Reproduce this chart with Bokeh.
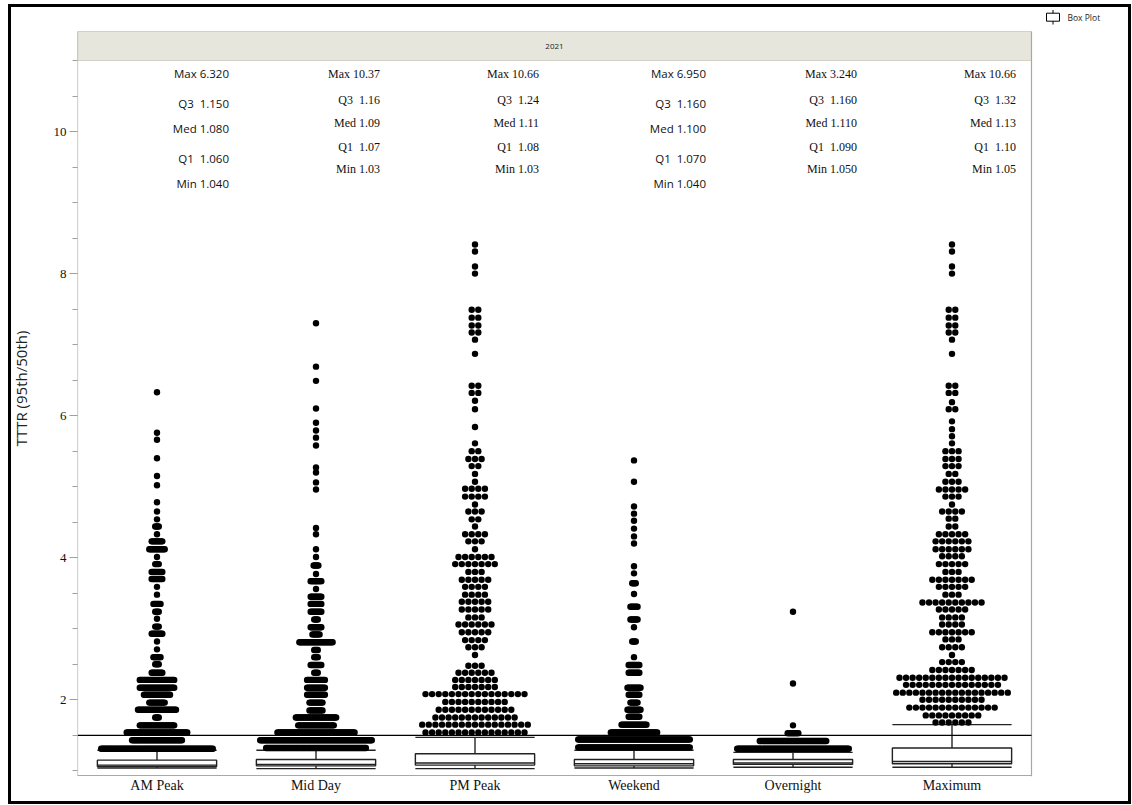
from bokeh.plotting import figure
from bokeh.models import FixedTicker, Range1d
from bokeh.embed import file_html
from bokeh.resources import INLINE
from bokeh.core.properties import value

# ---------------- data ----------------
categories = ["AM Peak", "Mid Day", "PM Peak", "Weekend", "Overnight", "Maximum"]
q1 = [1.06, 1.07, 1.08, 1.07, 1.09, 1.10]
median = [1.08, 1.09, 1.11, 1.10, 1.11, 1.13]
q3 = [1.15, 1.16, 1.24, 1.16, 1.16, 1.32]
minimum = [1.04, 1.03, 1.03, 1.04, 1.05, 1.05]
maximum = [6.32, 10.37, 10.66, 6.95, 3.24, 10.66]
upper_whisker = [1.29, 1.29, 1.47, 1.29, 1.26, 1.65]
stat_decimals = [3, 2, 2, 3, 3, 2]
stat_sans = [True, False, False, True, False, False]
reference_level = 1.5
panel_title = "2021"
legend_label = "Box Plot"
y_label = "TTTR (95th/50th)"

# dot rows (value, count)
am_vals = [1.31, 1.43, 1.54, 1.64, 1.75, 1.86, 1.96, 2.07, 2.17, 2.28, 2.38, 2.50, 2.60, 2.71, 2.82,
           2.93, 3.03, 3.14, 3.24, 3.35, 3.48, 3.59, 3.70, 3.80, 3.91, 4.01, 4.12, 4.23, 4.33, 4.44,
           4.54, 4.65, 4.78, 5.02, 5.15, 5.40, 5.66, 5.76, 6.33]
am_counts = [95, 43, 52, 30, 4, 33, 14, 23, 30, 30, 10, 4, 7, 1, 1,
             10, 4, 1, 4, 7, 1, 1, 10, 10, 4, 1, 14, 10, 1, 4,
             1, 1, 1, 1, 1, 1, 1, 1, 1]

md_vals = [1.32, 1.43, 1.54, 1.64, 1.75, 1.85, 1.96, 2.07, 2.17, 2.28, 2.38, 2.49, 2.60, 2.70, 2.81,
           2.92, 3.02, 3.13, 3.24, 3.35, 3.45, 3.56, 3.67, 3.77, 3.89, 4.01, 4.12, 4.33, 4.42,
           4.96, 5.06, 5.20, 5.27, 5.58, 5.69, 5.79, 5.90, 6.10, 6.49, 6.69, 7.30]
md_counts = [85, 95, 66, 31, 35, 12, 12, 16, 16, 16, 4, 10, 4, 4, 29,
             7, 10, 4, 10, 10, 10, 1, 10, 1, 5, 1, 1, 1, 1,
             1, 1, 1, 1, 1, 1, 1, 1, 1, 1, 1, 1]

pm_vals = [1.54, 1.65, 1.75, 1.86, 1.97, 2.08, 2.18, 2.28, 2.38, 2.48, 2.63, 2.74, 2.84, 2.95, 3.06,
           3.16, 3.27, 3.38, 3.48, 3.59, 3.69, 3.80, 3.91, 4.01, 4.12, 4.23, 4.33, 4.44, 4.54, 4.65,
           4.75, 4.86, 4.97, 5.07, 5.18, 5.29, 5.39, 5.50, 5.61, 5.84, 6.09, 6.21, 6.32, 6.42,
           6.87, 7.07, 7.17, 7.27, 7.38, 7.49, 8.00, 8.10, 8.31, 8.41]
pm_counts = [16, 17, 13, 12, 10, 16, 7, 7, 6, 3, 1, 3, 4, 5, 6,
             3, 5, 5, 4, 4, 5, 3, 7, 6, 1, 3, 4, 1, 2, 3,
             1, 4, 4, 1, 1, 2, 3, 2, 1, 1, 1, 1, 2, 2,
             1, 1, 2, 2, 2, 2, 1, 1, 1, 1]

wk_vals = [1.33, 1.44, 1.54, 1.65, 1.76, 1.86, 1.96, 2.07, 2.17, 2.38, 2.49, 2.60, 2.82, 3.02, 3.13,
           3.31, 3.49, 3.64, 3.78, 3.88, 4.20, 4.30, 4.41, 4.52, 4.62, 4.72, 5.07, 5.37]
wk_counts = [95, 95, 40, 22, 10, 12, 7, 10, 12, 10, 10, 1, 4, 1, 7,
             7, 1, 4, 1, 1, 1, 1, 1, 1, 1, 1, 1, 1]

on_vals = [1.31, 1.42, 1.53, 1.64, 2.23, 3.24]
on_counts = [95, 57, 10, 1, 1, 1]

mx_vals = [1.68, 1.78, 1.89, 2.00, 2.10, 2.21, 2.31, 2.42, 2.53, 2.63, 2.74, 2.85, 2.95, 3.06, 3.16,
           3.27, 3.37, 3.48, 3.59, 3.69, 3.80, 3.91, 4.02, 4.12, 4.23, 4.33, 4.44, 4.55, 4.65, 4.75,
           4.86, 4.96, 5.07, 5.18, 5.29, 5.39, 5.50, 5.61, 5.71, 5.81, 5.92, 6.09, 6.19, 6.32, 6.42,
           6.87, 7.07, 7.17, 7.27, 7.38, 7.49, 8.00, 8.10, 8.31, 8.41]
mx_counts = [6, 9, 14, 10, 18, 15, 17, 7, 4, 1, 4, 3, 7, 4, 4,
             5, 10, 3, 5, 7, 3, 5, 4, 6, 6, 5, 2, 2, 4, 1,
             3, 5, 3, 2, 3, 3, 3, 1, 1, 1, 1, 2, 1, 2, 2,
             1, 1, 2, 2, 2, 2, 1, 1, 1, 1]

dot_rows = [(am_vals, am_counts), (md_vals, md_counts), (pm_vals, pm_counts),
            (wk_vals, wk_counts), (on_vals, on_counts), (mx_vals, mx_counts)]

# ---------------- layout (pixels on the page) ----------------
W, H = 1131, 804
FL = 77             # left edge of the plotting frame
FB = 776            # bottom edge of the plotting frame
PX_X = 159.0        # px per category
PX_Y = 71.03        # px per y unit
Y_TOP_PX = 60       # y = 11.0 sits here
N = len(categories)


def to_x(px):
    return (px - FL) / PX_X


def to_y(py):
    return 11.0 + (Y_TOP_PX - py) / PX_Y


p = figure(frame_width=W - FL, frame_height=FB, output_backend="svg", toolbar_location=None,
           x_range=Range1d(0, to_x(W)), y_range=Range1d(to_y(FB), to_y(0)),
           min_border_left=FL, min_border_right=0, min_border_top=0, min_border_bottom=H - FB)
p.background_fill_color = None
p.border_fill_color = None
p.outline_line_color = None
p.xgrid.visible = False
p.ygrid.visible = False
p.styles = {
    "background": ("linear-gradient(#000,#000) 8px 4px / 3px 800px no-repeat, "
                   "linear-gradient(#000,#000) 8px 4px / 1123px 3px no-repeat, "
                   "linear-gradient(#000,#000) 1128px 4px / 3px 800px no-repeat, "
                   "linear-gradient(#000,#000) 8px 801px / 1123px 3px no-repeat, #fff"),
}

HEAD_TOP = to_y(31)
AX = "#a8a8a8"

# header strip
p.quad(left=[0], right=[N], bottom=[11.0], top=[HEAD_TOP],
       fill_color="#e7e6dc", line_color="#d4d2c6", line_width=1)
p.text(x=[N / 2], y=[(11.0 + HEAD_TOP) / 2], text=[panel_title],
       text_align="center", text_baseline="middle", text_font=value("Open Sans"),
       text_font_size="8px", text_color="#222222")

# plot-area edges (left axis line, right edge, bottom axis line)
p.segment(x0=[0, N, 0], x1=[0, N, N], y0=[to_y(FB), to_y(FB), to_y(775)],
          y1=[HEAD_TOP, HEAD_TOP, to_y(775)], line_color=AX, line_width=1.2)

# boxes
hw = 0.375
cx = [i + 0.5 for i in range(N)]
p.segment(x0=cx, x1=cx, y0=q3, y1=upper_whisker, line_color="black", line_width=1.2)
p.segment(x0=cx, x1=cx, y0=q1, y1=minimum, line_color="black", line_width=1.2)
p.quad(left=[c - hw for c in cx], right=[c + hw for c in cx], bottom=q1, top=q3,
       fill_color="white", line_color="#222222", line_width=1.4)
p.segment(x0=[c - hw for c in cx], x1=[c + hw for c in cx], y0=median, y1=median,
          line_color="#222222", line_width=1.4)
p.segment(x0=[c - hw for c in cx], x1=[c + hw for c in cx], y0=upper_whisker, y1=upper_whisker,
          line_color="#222222", line_width=1.4)
p.segment(x0=[c - hw for c in cx], x1=[c + hw for c in cx], y0=minimum, y1=minimum,
          line_color="#222222", line_width=1.4)

# dots
D = 6.4
MAXW = 118
xs, ys = [], []
for ci, (vals, cnts) in enumerate(dot_rows):
    mx = max(cnts)
    s = min(6.6, (MAXW - D) / (mx - 1)) if mx > 1 else 6.6
    for v, n in zip(vals, cnts):
        for i in range(n):
            off = (i - (n - 1) / 2) * s
            xs.append(cx[ci] + off / PX_X)
            ys.append(v)
p.scatter(xs, ys, marker="circle", size=D, fill_color="black", line_color=None)

# reference line across the plot area
p.segment(x0=[0], x1=[N], y0=[reference_level], y1=[reference_level], line_color="black", line_width=1.3)

# stats labels
sans_rows = [73, 103, 128, 158, 183]
serif_rows = [73, 99, 122, 146, 168]
for ci in range(N):
    f = "{:." + str(stat_decimals[ci]) + "f}"
    texts = ["Max " + f.format(maximum[ci]), "Q3\u00a0 " + f.format(q3[ci]), "Med " + f.format(median[ci]),
             "Q1\u00a0 " + f.format(q1[ci]), "Min " + f.format(minimum[ci])]
    if stat_sans[ci]:
        rows, font, size, dx = sans_rows, "Open Sans", "11.5px", 72
    else:
        rows, font, size, dx = serif_rows, "Liberation Serif", "12px", 64
    p.text(x=[cx[ci] + dx / PX_X] * 5, y=[to_y(r) for r in rows], text=texts,
           text_align="right", text_baseline="middle", text_font=value(font),
           text_font_size=size, text_color="#111111")

# legend "Box Plot" (top right)
p.quad(left=[to_x(1046)], right=[to_x(1059)], bottom=[to_y(20.7)], top=[to_y(12.7)],
       fill_color="white", line_color="black", line_width=1)
p.segment(x0=[to_x(1052.5)] * 2, x1=[to_x(1052.5)] * 2, y0=[to_y(9.5), to_y(20.7)],
          y1=[to_y(12.7), to_y(24)], line_color="black", line_width=1)
p.text(x=[to_x(1067)], y=[to_y(16.7)], text=[legend_label], text_align="left", text_baseline="middle",
       text_font=value("Open Sans"), text_font_size="8.5px", text_color="#222222")

# axes
p.xaxis.ticker = FixedTicker(ticks=cx)
p.xaxis.major_label_overrides = {c: n for c, n in zip(cx, categories)}
p.xaxis.major_tick_line_color = None
p.xaxis.minor_tick_line_color = None
p.xaxis.major_tick_out = 0
p.xaxis.major_tick_in = 0
p.xaxis.minor_tick_out = 0
p.xaxis.minor_tick_in = 0
p.xaxis.axis_line_color = None
p.xaxis.major_label_text_font = "Liberation Serif"
p.xaxis.major_label_text_font_size = "14px"
p.xaxis.major_label_text_color = "#111111"
p.xaxis.major_label_standoff = 1

p.yaxis.ticker = FixedTicker(ticks=[2, 4, 6, 8, 10], minor_ticks=[1 + 0.5 * k for k in range(21)])
p.yaxis.axis_line_color = None
p.yaxis.major_tick_line_color = "#a0a0a0"
p.yaxis.minor_tick_line_color = "#a0a0a0"
p.yaxis.major_tick_out = 8
p.yaxis.major_tick_in = 0
p.yaxis.minor_tick_out = 5
p.yaxis.minor_tick_in = 0
p.yaxis.major_label_text_font = "Liberation Serif"
p.yaxis.major_label_text_font_size = "13px"
p.yaxis.major_label_text_color = "#111111"
p.yaxis.major_label_standoff = 3
p.yaxis.axis_label = y_label
p.yaxis.axis_label_text_font = "Open Sans"
p.yaxis.axis_label_text_font_size = "15px"
p.yaxis.axis_label_text_font_style = "normal"
p.yaxis.axis_label_text_color = "#222222"
p.yaxis.axis_label_standoff = 20

open("out.html", "w").write(file_html(p, INLINE))
